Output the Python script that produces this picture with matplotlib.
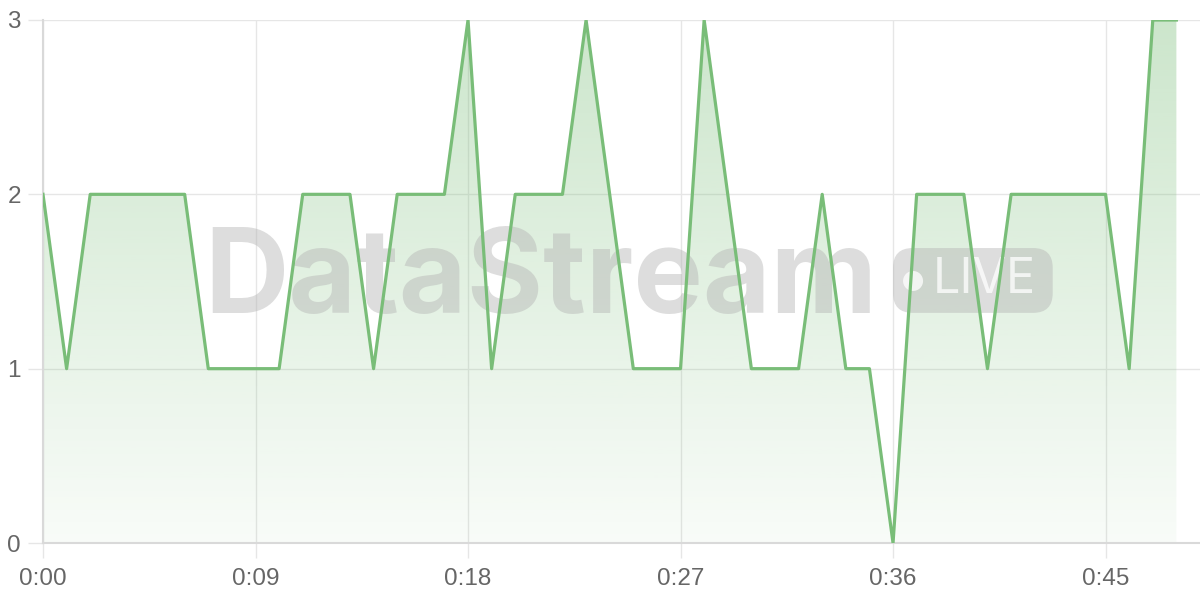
"""Live metric trace with gradient area fill and a faint watermark."""

import matplotlib.pyplot as plt
import numpy as np
from matplotlib.patches import FancyBboxPatch, Ellipse

# one sample per second
seconds = list(range(49))
values = [2, 1, 2, 2, 2, 2, 2, 1, 1, 1, 1, 2, 2, 2, 1, 2, 2, 2, 3, 1,
          2, 2, 2, 3, 2, 1, 1, 1, 3, 2, 1, 1, 1, 2, 1, 1, 0, 2, 2, 2,
          1, 2, 2, 2, 2, 2, 1, 3, 3]
xticks = [0, 9, 18, 27, 36, 45]
xtick_labels = ["0:00", "0:09", "0:18", "0:27", "0:36", "0:45"]
yticks = [0, 1, 2, 3]

LINE = "#79bd78"
GRID = "#e6e6e6"
TEXT = "#666666"
MARK = "#b4b4b4"


def main() -> None:
    plt.rcParams["font.family"] = ["Liberation Sans", "DejaVu Sans"]
    fig = plt.figure(figsize=(12, 6), dpi=100)
    ax = fig.add_axes([43 / 1200, 57 / 600, 1157 / 1200, 523 / 600])

    x = np.array(seconds, dtype=float)
    y = np.array(values, dtype=float)

    # gradient fill under the line
    poly = ax.fill_between(x, y, 0, color="none", lw=0)
    rgba = np.zeros((256, 1, 4))
    rgba[..., :3] = plt.matplotlib.colors.to_rgb(LINE)
    rgba[..., 3] = np.linspace(0.05, 0.38, 256).reshape(-1, 1)
    img = ax.imshow(rgba, extent=[x.min(), x.max(), 0, 3], origin="lower",
                    aspect="auto", zorder=1)
    img.set_clip_path(poly.get_paths()[0], transform=ax.transData)

    # watermark
    ax.text(0.43, 0.44, "DataStream", transform=ax.transAxes,
            fontsize=84, fontweight="bold", family="Inter", color=MARK,
            alpha=0.45, ha="center", va="baseline", zorder=2)
    ax.add_patch(FancyBboxPatch((0.7347, 0.44), 0.138, 0.124,
                                transform=ax.transAxes,
                                boxstyle="round,pad=0,rounding_size=0.017",
                                mutation_aspect=1157 / 523,
                                fc=MARK, ec="none", alpha=0.45, zorder=2))
    ax.add_patch(Ellipse((0.752, 0.501), 20 / 1157, 20 / 523,
                         transform=ax.transAxes, fc="white", ec="none",
                         alpha=0.75, zorder=2))
    ax.text(0.814, 0.503, "LIVE", transform=ax.transAxes, fontsize=35,
            family="Inter", color="white", alpha=0.75, ha="center",
            va="center", zorder=2)

    ax.plot(x, y, color=LINE, lw=2.3, zorder=3)

    ax.set_xlim(0, 49)
    ax.set_ylim(0, 3)
    ax.set_xticks(xticks, xtick_labels)
    ax.set_yticks(yticks)
    ax.grid(True, color=GRID, lw=1)
    ax.set_axisbelow(True)
    for side in ("top", "right"):
        ax.spines[side].set_visible(False)
    for side in ("left", "bottom"):
        ax.spines[side].set_color("#d9d9d9")
        ax.spines[side].set_linewidth(1.5)
    ax.tick_params(length=11, width=1, color=GRID, labelcolor=TEXT,
                   labelsize=17.5)
    ax.tick_params(axis="y", pad=5)
    ax.tick_params(axis="x", pad=7)

    fig.savefig("out.png", dpi=100)


if __name__ == "__main__":
    main()
